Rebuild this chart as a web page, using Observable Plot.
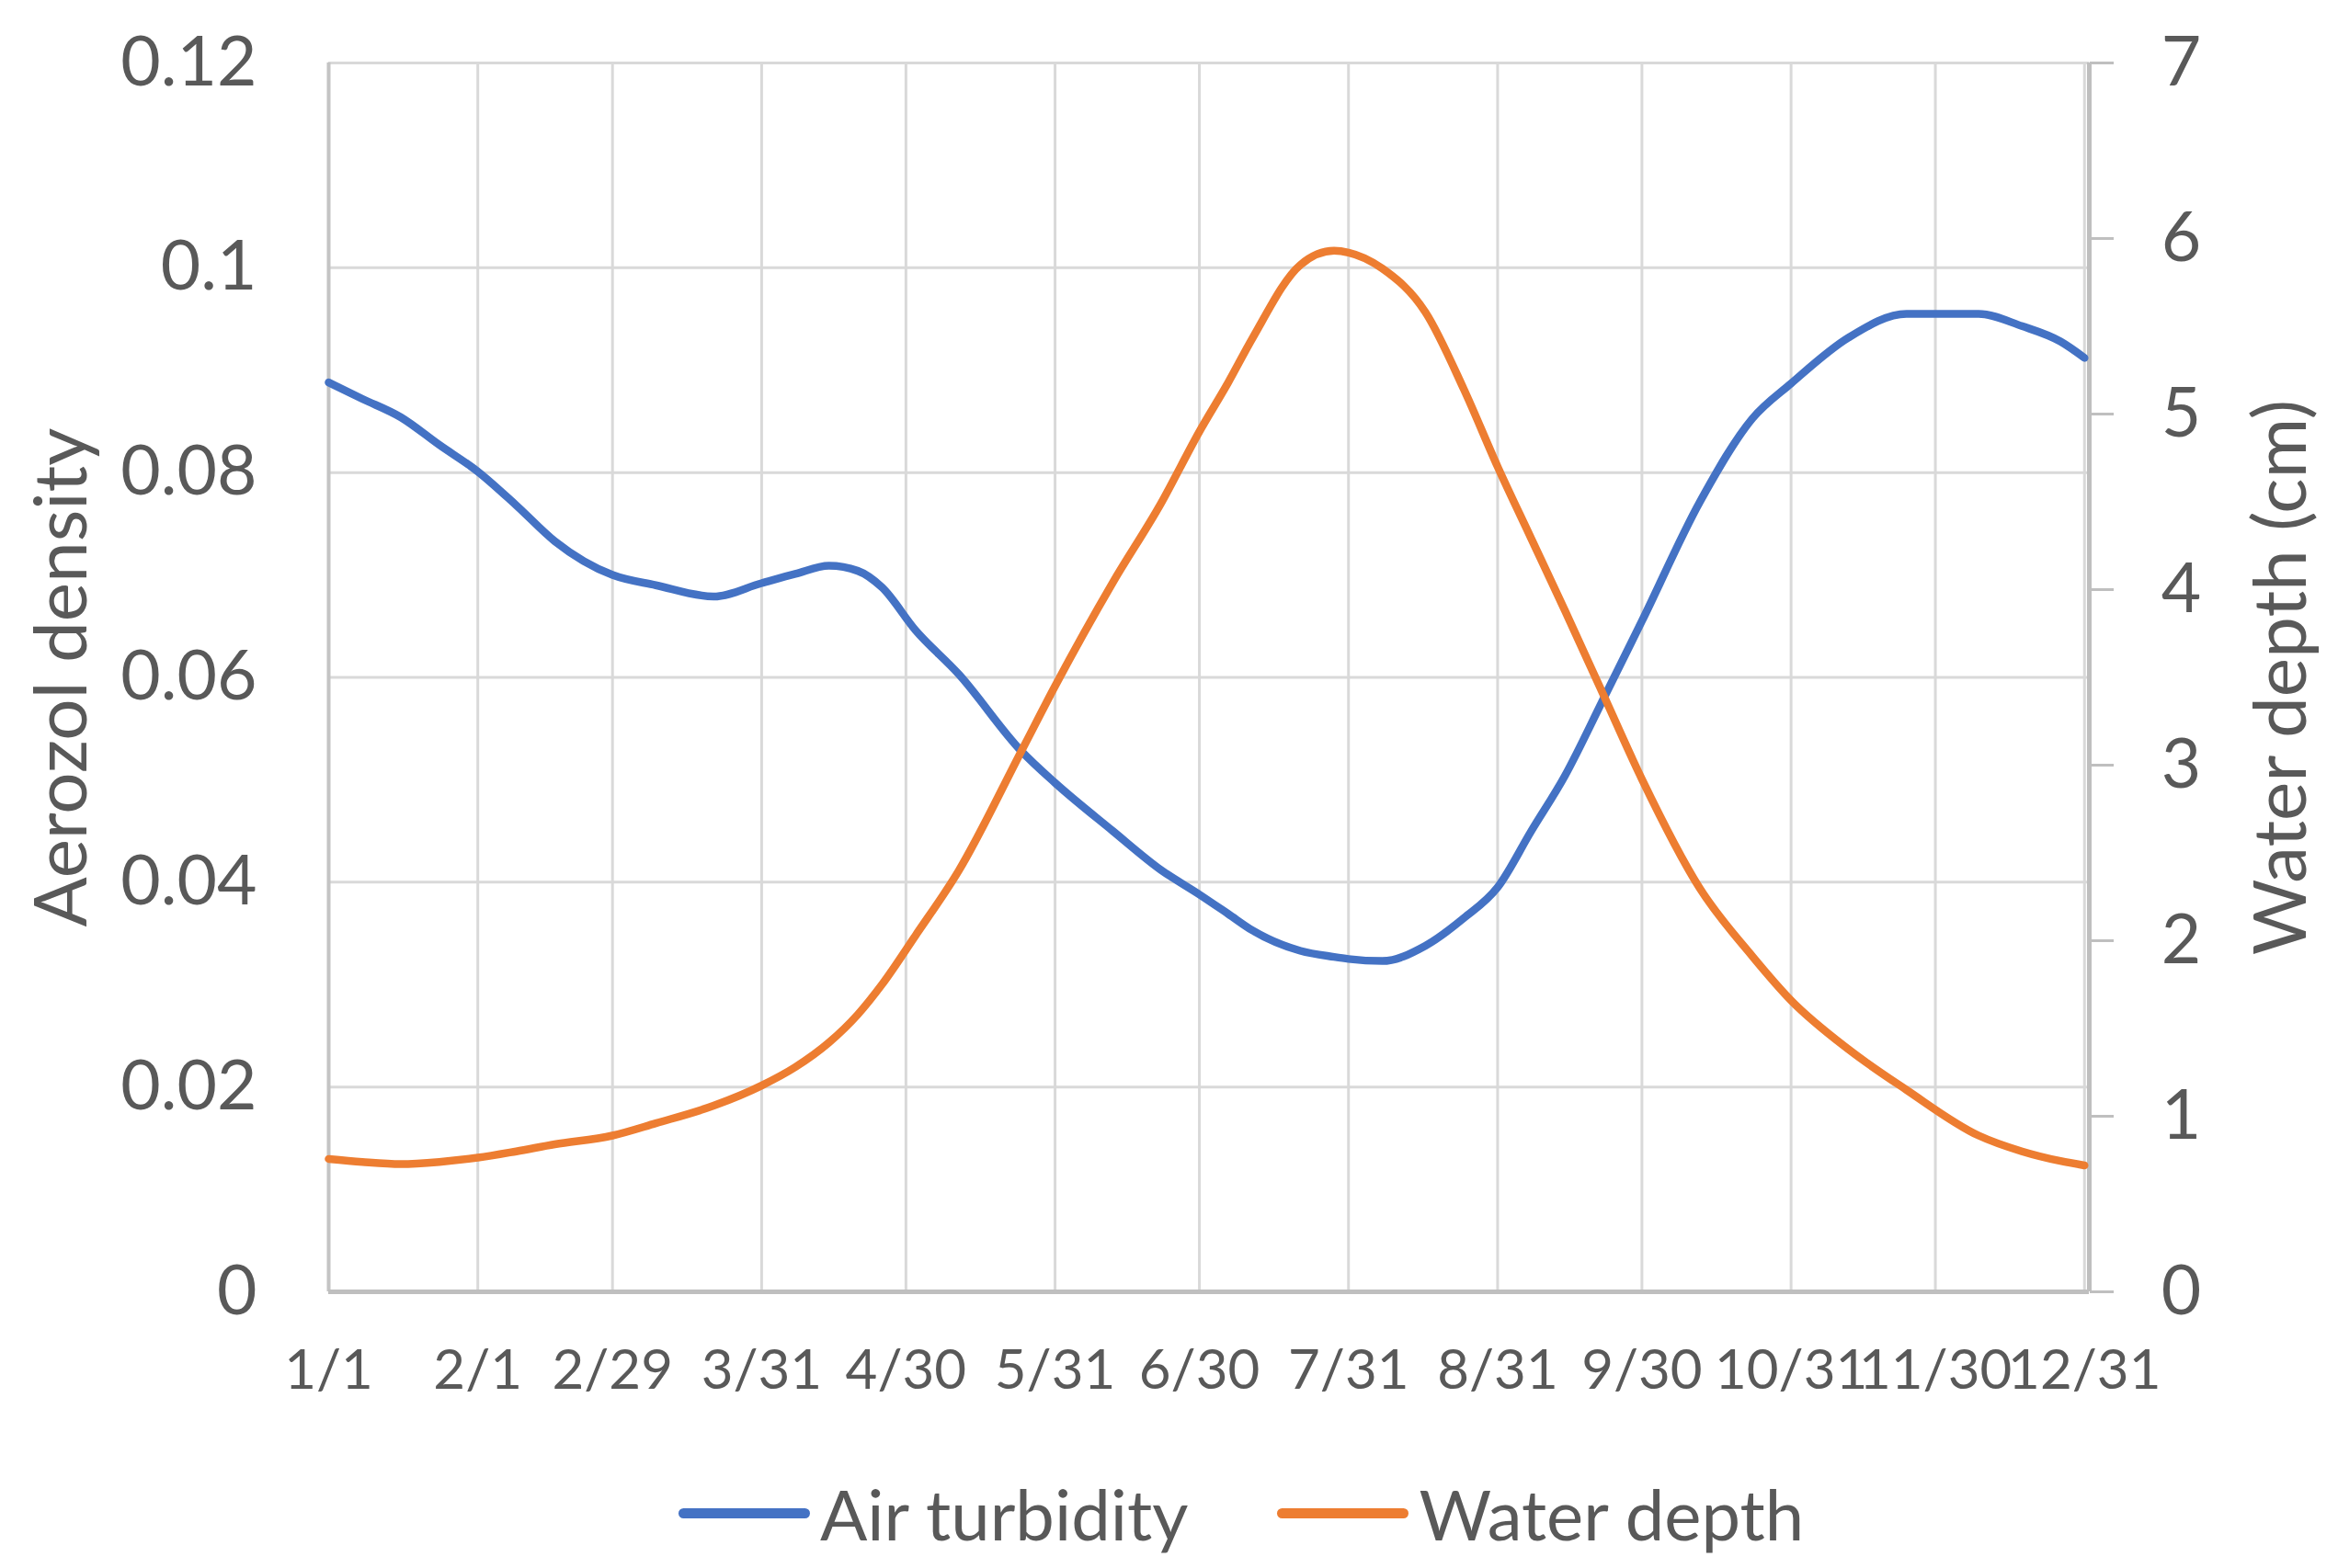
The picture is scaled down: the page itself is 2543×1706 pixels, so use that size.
<!DOCTYPE html>
<html>
<head>
<meta charset="utf-8">
<script src="https://cdn.jsdelivr.net/npm/d3@7"></script>
<script src="https://cdn.jsdelivr.net/npm/@observablehq/plot@0.6"></script>
<style>
  html, body { margin: 0; padding: 0; background: #fff; }
  #wrap { position: relative; width: 2543px; height: 1706px; }
  #legend { position: absolute; left: 738px; top: 1604px; height: 84px; display: flex; align-items: center;
            font-family: Lato, sans-serif; font-size: 76px; color: #595959; white-space: nowrap; }
  .sw { display: inline-block; width: 143px; height: 11px; border-radius: 6px; margin-right: 11px; }
</style>
</head>
<body>
<div id="wrap"><div id="chart"></div><div id="legend"></div></div>
<script>
const dates = ["2020-01-01","2020-01-08","2020-01-16","2020-01-24","2020-02-01","2020-02-09","2020-02-17","2020-02-29",
  "2020-03-09","2020-03-21","2020-03-31","2020-04-07","2020-04-14","2020-04-20","2020-04-25","2020-05-02","2020-05-11",
  "2020-05-24","2020-05-31","2020-06-12","2020-06-22","2020-06-30","2020-07-06","2020-07-11","2020-07-21","2020-07-28",
  "2020-07-31","2020-08-07","2020-08-16","2020-08-24","2020-08-31","2020-09-07","2020-09-14","2020-09-22","2020-09-30",
  "2020-10-12","2020-10-23","2020-10-31","2020-11-12","2020-11-24","2020-12-09","2020-12-18","2020-12-26","2020-12-31"];
const airTurbidity = [0.0888,0.0872,0.0854,0.0827,0.0801,0.0768,0.0733,0.0700,
  0.0690,0.0679,0.0692,0.0701,0.0709,0.0704,0.0688,0.0646,0.0603,
  0.0528,0.0497,0.0450,0.0412,0.0388,0.0369,0.0353,0.0333,0.0327,
  0.0325,0.0323,0.0338,0.0365,0.0395,0.0450,0.0504,0.0579,0.0655,
  0.0771,0.0853,0.0887,0.0932,0.0955,0.0955,0.0943,0.0928,0.0912];
const waterDepth = [0.757,0.740,0.728,0.740,0.764,0.800,0.840,0.890,
  0.960,1.060,1.175,1.280,1.420,1.580,1.750,2.030,2.400,
  3.080,3.450,4.040,4.490,4.900,5.180,5.430,5.850,5.930,
  5.920,5.830,5.580,5.140,4.700,4.290,3.880,3.400,2.920,
  2.300,1.910,1.660,1.380,1.150,0.890,0.800,0.745,0.720];
const seriesNames = ["Air turbidity", "Water depth"];
const seriesColors = ["#4472C4", "#ED7D31"];
const xTickLabels = ["2020-01-01","2020-02-01","2020-02-29","2020-03-31","2020-04-30","2020-05-31","2020-06-30",
  "2020-07-31","2020-08-31","2020-09-30","2020-10-31","2020-11-30","2020-12-31"];
const leftTicks = [0, 0.02, 0.04, 0.06, 0.08, 0.1, 0.12];
const rightTicks = [0, 1, 2, 3, 4, 5, 6, 7];
const leftMax = 0.12, rightMax = 7;

const k = leftMax / rightMax;
const rows = dates.map((d, i) => ({date: new Date(d), air: airTurbidity[i], water: waterDepth[i]}));
const xTicks = xTickLabels.map(d => new Date(d));
const x0 = new Date("2020-01-01"), x1 = new Date("2021-01-01");
const fmtDate = d => `${d.getUTCMonth() + 1}/${d.getUTCDate()}`;

const chart = Plot.plot({
  width: 2543, height: 1560,
  marginLeft: 357, marginRight: 271, marginTop: 68, marginBottom: 155,
  style: {fontFamily: "Lato, sans-serif", fontSize: "75px", color: "#595959", background: "white", overflow: "visible"},
  x: {type: "utc", domain: [x0, x1]},
  y: {domain: [0, leftMax], label: null},
  marks: [
    Plot.ruleY(leftTicks, {stroke: "#d9d9d9", strokeWidth: 3}),
    Plot.ruleX(xTicks, {stroke: "#d9d9d9", strokeWidth: 3}),
    Plot.ruleX([x0], {stroke: "#c4c4c4", strokeWidth: 4}),
    Plot.ruleX([x1], {stroke: "#bfbfbf", strokeWidth: 5}),
    Plot.ruleY([0], {stroke: "#bfbfbf", strokeWidth: 5}),
    Plot.axisX(xTicks, {tickSize: 0, tickPadding: 63, tickFormat: fmtDate, fontSize: 60, label: null}),
    Plot.axisY(leftTicks, {anchor: "left", tickSize: 0, tickPadding: 78, tickFormat: d => String(+d.toFixed(2)), label: null}),
    Plot.axisY(rightTicks.map(v => v * k), {anchor: "right", tickSize: 26, tickPadding: 0, stroke: "#bfbfbf", strokeWidth: 3,
      text: null, label: null}),
    Plot.axisY(rightTicks.map(v => v * k), {anchor: "right", tickSize: 0, tickPadding: 100, textAnchor: "middle",
      fill: "#595959", tickFormat: d => String(Math.round(d / k)), label: null}),
    Plot.line(rows, {x: "date", y: "air", stroke: seriesColors[0], strokeWidth: 8.5, curve: "monotone-x", strokeLinecap: "round"}),
    Plot.line(rows, {x: "date", y: d => d.water * k, stroke: seriesColors[1], strokeWidth: 8.5, curve: "monotone-x", strokeLinecap: "round"}),
    Plot.text(["Aerozol density"], {frameAnchor: "left", dx: -289, rotate: -90, textAnchor: "middle", fontSize: 80, fill: "#595959"}),
    Plot.text(["Water depth (cm)"], {frameAnchor: "right", dx: 210, rotate: -90, textAnchor: "middle", fontSize: 80, fill: "#595959"})
  ]
});
document.getElementById("chart").appendChild(chart);

const legend = document.getElementById("legend");
seriesNames.forEach((name, i) => {
  const sw = document.createElement("span");
  sw.className = "sw";
  sw.style.background = seriesColors[i];
  if (i > 0) sw.style.marginLeft = "97px";
  const t = document.createElement("span");
  t.textContent = name;
  legend.appendChild(sw);
  legend.appendChild(t);
});
</script>
</body>
</html>
